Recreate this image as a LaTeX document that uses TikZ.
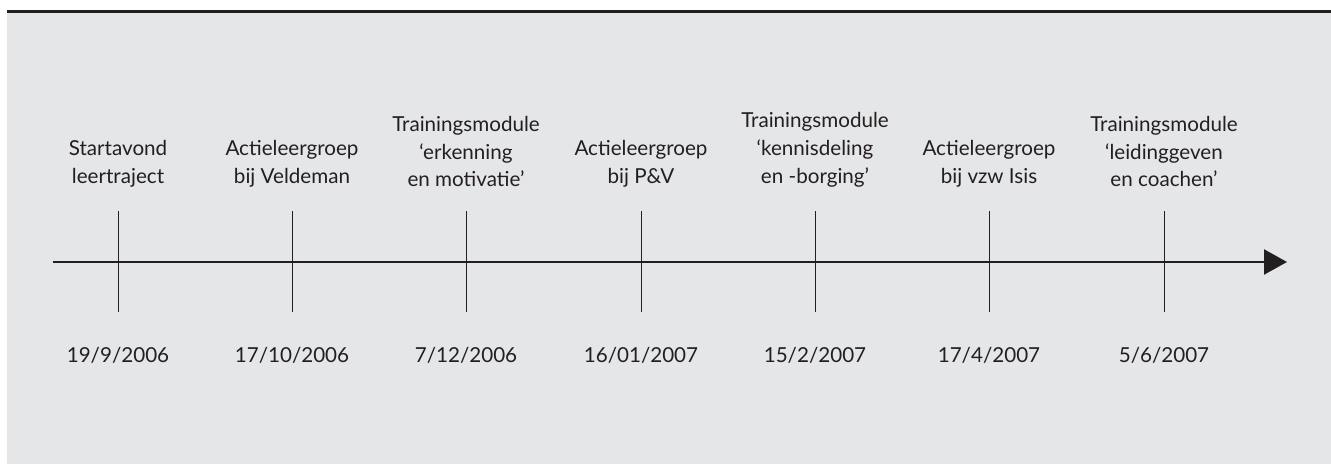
\documentclass[tikz,border=0pt]{standalone}
\usepackage{fontspec}
\setmainfont{Lato}
\usetikzlibrary{positioning,arrows.meta}
\definecolor{bggray}{HTML}{E5E6E8}
\definecolor{ink}{HTML}{231F20}

\begin{document}
\begin{tikzpicture}[x=0.03cm,y=0.03cm,
	eventstyle/.style={align=center,inner sep=0pt,font=\fontsize{17.6}{23.5}\selectfont,text=ink},
	datestyle/.style={inner sep=0pt,font=\fontsize{17.6}{23.5}\selectfont,text=ink}]
				\useasboundingbox (0,0) rectangle (1331,464);
				\fill[bggray] (7,0) rectangle (1331,452);
				\draw[ink,line width=0.065cm] (7,452.5) -- (1331,452.5);
				
				\coordinate (begin) at (53,202);
				\coordinate (end) at (1287,202);
				\draw[ink,line width=0.07cm,-{Triangle[length=0.69cm,width=0.75cm]}] (begin) -- (end);
				
				\foreach \x/\n/\txt/\date in {118/1/{Startavond\\leertraject}/{19/9/2006},
					292/2/{Actieleergroep\\bij Veldeman}/{17/10/2006},
					466/3/{Trainingsmodule\\‘erkenning\\en motivatie’}/{7/12/2006},
					641/4/{Actieleergroep\\bij P\&V}/{16/01/2007},
					815/5/{Trainingsmodule\\‘kennisdeling\\en -borging’}/{15/2/2007},
					989/6/{Actieleergroep\\bij vzw Isis}/{17/4/2007},
					1164/7/{Trainingsmodule\\‘leidinggeven\\en coachen’}/{5/6/2007}}
				{\coordinate (top\n) at (\x,253);
					\coordinate (bot\n) at (\x,152);
					\draw[ink,line width=0.03cm] (top\n) -- (bot\n);
					\node [eventstyle, above=0.72cm of top\n] (ev\n) {\txt};
					\node [datestyle, below=1.06cm of bot\n] (dt\n) {\date};}
				
			\end{tikzpicture}
\end{document}
